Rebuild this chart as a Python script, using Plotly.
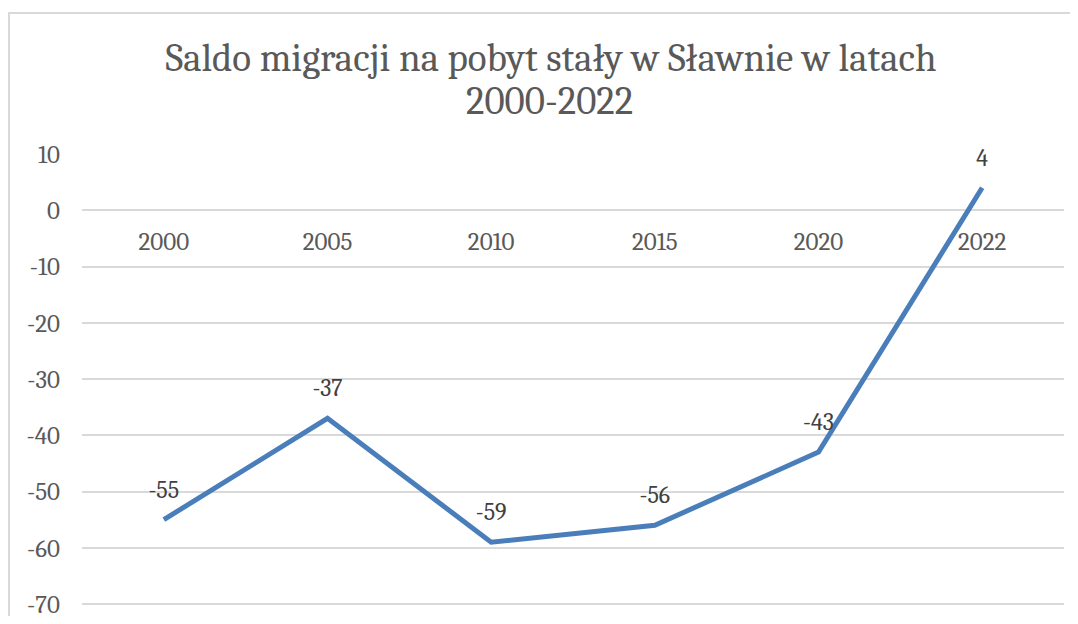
import plotly.graph_objects as go

years = ["2000", "2005", "2010", "2015", "2020", "2022"]
saldo = [-55, -37, -59, -56, -43, 4]
y_ticks = [10, 0, -10, -20, -30, -40, -50, -60, -70]
y_tick_text = ["10", "0", "-10", "-20", "-30", "-40", "-50", "-60", "-70"]
title_line1 = "Saldo migracji na pobyt stały w Sławnie w latach"
title_line2 = "2000-2022"

# page body has an 8px margin; figure coordinates are screen coords - 8
OFF = 8
W, H = 1078 - 2 * OFF, 624 - 2 * OFF
L, R, T, B0 = 82 - OFF, 1064 - OFF, 154 - OFF, 604 - OFF
ymax, ymin0 = 10, -70
ppu = (B0 - T) / (ymax - ymin0)
EXTRA_PX = 3
B = B0 + EXTRA_PX
ymin = ymin0 - EXTRA_PX / ppu

SERIF = "Cambria, 'Liberation Serif', 'DejaVu Serif', serif"

fig = go.Figure()
fig.add_trace(go.Scatter(
    x=years, y=saldo,
    mode="lines+markers+text",
    line=dict(color="#4A7EBB", width=5),
    marker=dict(size=24, color="rgba(0,0,0,0)"),
    text=[str(v) for v in saldo],
    textposition="top center",
    textfont=dict(family=SERIF, size=24, color="#404040"),
    cliponaxis=False,
    hoverinfo="x+y",
))

fig.update_layout(
    width=W, height=H,
    margin=dict(l=L, r=W - R, t=T, b=H - B, pad=0, autoexpand=False),
    paper_bgcolor="white", plot_bgcolor="white",
    showlegend=False,
    title=dict(
        text=title_line1,
        font=dict(family=SERIF, size=39, color="#595959"),
        xref="container", yref="container",
        x=(551 - OFF) / W, xanchor="center",
        y=1 - (57 - OFF) / H, yanchor="middle",
        automargin=False,
    ),
    annotations=[dict(
        text=title_line2,
        font=dict(family=SERIF, size=39, color="#595959"),
        xref="paper", yref="paper",
        x=(549 - OFF - L) / (R - L), xanchor="center",
        y=(B - (101 - OFF)) / (B - T), yanchor="middle",
        showarrow=False,
    )],
    xaxis=dict(
        type="category",
        range=[-0.5, len(years) - 0.5],
        showgrid=False, zeroline=False, showline=False,
        anchor="free",
        position=(0 - ymin) / (ymax - ymin),
        ticks="", ticklabelstandoff=14,
        automargin=False,
        tickfont=dict(family=SERIF, size=25, color="#595959"),
    ),
    yaxis=dict(
        range=[ymin, ymax],
        tickvals=y_ticks, ticktext=y_tick_text,
        showgrid=True, gridcolor="#D9D9D9", gridwidth=2,
        zeroline=False, showline=False,
        ticks="", ticklabelstandoff=21,
        ticklabeloverflow="allow",
        automargin=False,
        tickfont=dict(family=SERIF, size=25, color="#595959"),
    ),
    shapes=[dict(
        type="rect", xref="paper", yref="paper",
        x0=(9 - OFF - L) / (R - L), x1=(W + 30 - L) / (R - L),
        y0=(B - (H + 30)) / (B - T), y1=(B - (13 - OFF)) / (B - T),
        line=dict(color="#D9D9D9", width=2),
        fillcolor="rgba(0,0,0,0)", layer="below",
    )],
)

fig.write_html("out.html")
